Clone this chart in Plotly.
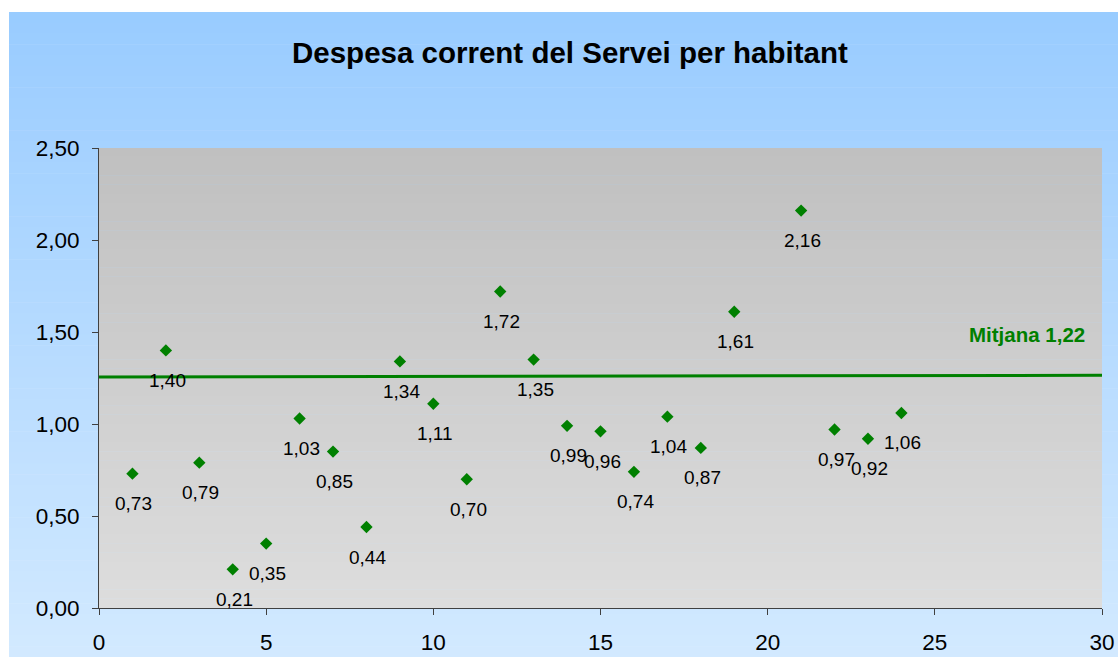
import plotly.graph_objects as go

# ---- data ----
x_vals = [1, 2, 3, 4, 5, 6, 7, 8, 9, 10, 11, 12, 13, 14, 15, 16, 17, 18, 19, 21, 22, 23, 24]
y_vals = [0.73, 1.40, 0.79, 0.21, 0.35, 1.03, 0.85, 0.44, 1.34, 1.11, 0.70, 1.72, 1.35,
          0.99, 0.96, 0.74, 1.04, 0.87, 1.61, 2.16, 0.97, 0.92, 1.06]
mean_x = [0, 30.2]
mean_y = [1.255, 1.265]
mean_label = "Mitjana 1,22"
title_text = "Despesa corrent del Servei per habitant"
x_ticks = [0, 5, 10, 15, 20, 25, 30]
y_ticks = [0, 0.5, 1.0, 1.5, 2.0, 2.5]

W, H = 1118, 657
L, R, T, B = 99, 1102, 148, 608  # plot area pixels
GREEN = "#008000"
FONT = "Liberation Sans, Arial, sans-serif"


def px_to_paper_x(px):
    return (px - L) / (R - L)


def px_to_paper_y(py):
    return (B - py) / (B - T)


def lerp(c1, c2, t):
    return "rgb(%d,%d,%d)" % tuple(round(a + (b - a) * t) for a, b in zip(c1, c2))


shapes = []
# outer gradient background (paper coords)
n = 60
top_c, bot_c = (153, 204, 255), (210, 233, 255)
y_top, y_bot = 12, H
for i in range(n):
    py0 = y_top + (y_bot - y_top) * i / n
    py1 = min(y_top + (y_bot - y_top) * (i + 1) / n + 0.6, H)
    shapes.append(dict(type="rect", xref="paper", yref="paper", layer="below",
                       x0=px_to_paper_x(9), x1=px_to_paper_x(W),
                       y0=px_to_paper_y(py1), y1=px_to_paper_y(py0),
                       fillcolor=lerp(top_c, bot_c, i / (n - 1)), line_width=0))

# plot area gradient (axis coords)
m = 50
p_top, p_bot = (192, 192, 192), (221, 221, 221)
for i in range(m):
    y0 = 2.5 * (1 - (i + 1) / m)
    y1 = 2.5 * (1 - i / m) + 0.002
    shapes.append(dict(type="rect", xref="x", yref="y", layer="below",
                       x0=0, x1=30, y0=y0, y1=y1,
                       fillcolor=lerp(p_top, p_bot, i / (m - 1)), line_width=0))

fig = go.Figure()
fig.add_trace(go.Scatter(x=mean_x, y=mean_y, mode="lines",
                         line=dict(color=GREEN, width=3), cliponaxis=False,
                         hoverinfo="skip", showlegend=False))
fig.add_trace(go.Scatter(x=x_vals, y=y_vals, mode="markers",
                         marker=dict(symbol="diamond", size=9.5, color=GREEN),
                         showlegend=False))

annotations = []
for xv, yv in zip(x_vals, y_vals):
    annotations.append(dict(x=xv, y=yv, xref="x", yref="y", text=f"{yv:.2f}".replace(".", ","),
                            showarrow=False, yshift=-30, xshift=1.5,
                            font=dict(family=FONT, size=19, color="#000000")))
annotations.append(dict(x=px_to_paper_x(1087), y=1.484, xref="paper", yref="y",
                        text=f"<b>{mean_label}</b>", showarrow=False, xanchor="right",
                        yanchor="middle", font=dict(family=FONT, size=20.5, color=GREEN)))
annotations.append(dict(x=px_to_paper_x(570), y=px_to_paper_y(53), xref="paper", yref="paper",
                        text=f"<b>{title_text}</b>", showarrow=False, xanchor="center",
                        yanchor="middle", font=dict(family=FONT, size=29.5, color="#000000")))

fig.update_layout(
    width=W, height=H,
    margin=dict(l=L, r=W - R, t=T, b=H - B, pad=0, autoexpand=False),
    paper_bgcolor="white",
    plot_bgcolor="#cccccc",
    separators=",.",
    shapes=shapes,
    annotations=annotations,
    font=dict(family=FONT, color="#000000"),
    xaxis=dict(range=[0, 30], tickvals=x_ticks, showgrid=False, zeroline=False,
               showline=True, linecolor="#404040", linewidth=1, automargin=False,
               ticks="outside", ticklen=6, tickcolor="#404040",
               tickfont=dict(size=22.5, family=FONT), ticklabelstandoff=8, fixedrange=True),
    yaxis=dict(range=[0, 2.5], tickvals=y_ticks, tickformat=".2f", showgrid=False,
               zeroline=False, showline=True, linecolor="#404040", linewidth=1, automargin=False,
               ticks="outside", ticklen=6, tickcolor="#404040",
               tickfont=dict(size=22.5, family=FONT), ticklabelstandoff=8, fixedrange=True),
)

fig.write_html("out.html", config={"displayModeBar": False},
               post_script="document.body.style.margin='0';document.body.style.overflow='hidden';")
